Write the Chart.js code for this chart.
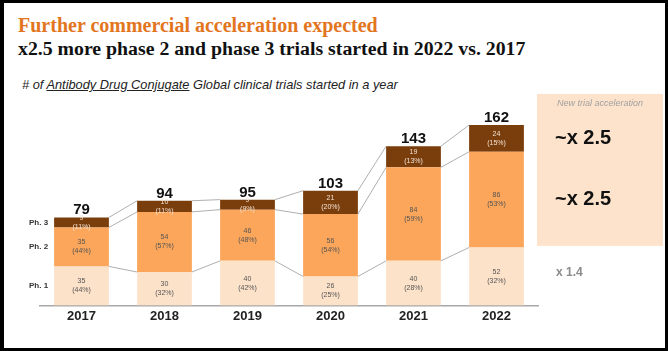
<!DOCTYPE html>
<html>
<head>
<meta charset="utf-8">
<script src="https://cdn.jsdelivr.net/npm/chart.js@4/dist/chart.umd.min.js"></script>
<style>
  html, body { margin: 0; padding: 0; background: #fff; }
  #wrap { position: relative; width: 668px; height: 351px; overflow: hidden; background: #fff; }
  #frame { position: absolute; left: 0; top: 0; width: 668px; height: 351px; box-sizing: border-box;
           border-style: solid; border-color: #000; border-width: 3px 3px 3px 4px; pointer-events: none; z-index: 5; }
  canvas { position: absolute; left: 0; top: 0; }
  .t1 { position: absolute; left: 18px; top: 14px; font: bold 20px "Liberation Serif", "Times New Roman", serif; color: #E2761F; white-space: nowrap; }
  .t2 { position: absolute; left: 18px; top: 37px; font: bold 19.8px "Liberation Serif", "Times New Roman", serif; color: #111; white-space: nowrap; }
  .sub { position: absolute; left: 22px; top: 77px; font: italic 12.8px "Liberation Sans", Arial, sans-serif; color: #222; white-space: nowrap; }
  .sub u { text-decoration: underline; }
</style>
</head>
<body>
<div id="wrap">
  <div class="t1">Further commercial acceleration expected</div>
  <div class="t2">x2.5 more phase 2 and phase 3 trials started in 2022 vs. 2017</div>
  <div class="sub"># of <u>Antibody Drug Conjugate</u> Global clinical trials started in a year</div>
  <canvas id="c" width="668" height="351"></canvas>
  <div id="frame"></div>
</div>
<script>
const years = ["2017", "2018", "2019", "2020", "2021", "2022"];
const phaseNames = ["Ph. 1", "Ph. 2", "Ph. 3"];
const ph1 = [35, 30, 40, 26, 40, 52];
const ph2 = [35, 54, 46, 56, 84, 86];
const ph3 = [9, 10, 9, 21, 19, 24];
const ph1Pct = [44, 32, 42, 25, 28, 32];
const ph2Pct = [44, 57, 48, 54, 59, 53];
const ph3Pct = [11, 11, 9, 20, 13, 15];
const totals = [79, 94, 95, 103, 143, 162];
const accelTitle = "New trial acceleration";
const accelLabels = ["x 1.4", "~x 2.5", "~x 2.5"];

const colors = ["#FDE2CA", "#FBA65A", "#7A3D0C"];
const valuesByPhase = [ph1, ph2, ph3];
const pctByPhase = [ph1Pct, ph2Pct, ph3Pct];

const overlay = {
  id: "overlay",
  beforeDatasetsDraw(chart) {
    const ctx = chart.ctx;
    const y = chart.scales.y;
    const boxLeft = chart.chartArea.right - 1;
    const top = y.getPixelForValue(190);
    const bottom = y.getPixelForValue(53.5);
    ctx.save();
    ctx.fillStyle = "#FDE3CC";
    ctx.fillRect(boxLeft, top, 663 - boxLeft, bottom - top);
    ctx.restore();
  },
  afterDatasetsDraw(chart) {
    const ctx = chart.ctx;
    const yS = chart.scales.y;
    const n = years.length;
    const metas = [0, 1, 2].map(i => chart.getDatasetMeta(i));
    ctx.save();
    // connectors
    ctx.strokeStyle = "#9a9a9a";
    ctx.lineWidth = 0.8;
    for (let i = 0; i < n - 1; i++) {
      for (let p = 0; p < 3; p++) {
        const a = metas[p].data[i], b = metas[p].data[i + 1];
        ctx.beginPath();
        ctx.moveTo(a.x + a.width / 2, a.y);
        ctx.lineTo(b.x - b.width / 2, b.y);
        ctx.stroke();
      }
    }
    // segment labels
    ctx.textAlign = "center";
    ctx.textBaseline = "middle";
    ctx.font = "7px 'Liberation Sans', Arial, sans-serif";
    for (let p = 0; p < 3; p++) {
      ctx.fillStyle = p === 2 ? "#f3e3d3" : "#555";
      for (let i = 0; i < n; i++) {
        const el = metas[p].data[i];
        const cy = (el.y + el.base) / 2;
        ctx.fillText(String(valuesByPhase[p][i]), el.x, cy - 4.5);
        ctx.fillText("(" + pctByPhase[p][i] + "%)", el.x, cy + 4.5);
      }
    }
    // totals
    ctx.fillStyle = "#111";
    ctx.font = "bold 15px 'Liberation Sans', Arial, sans-serif";
    ctx.textBaseline = "alphabetic";
    for (let i = 0; i < n; i++) {
      const el = metas[2].data[i];
      ctx.fillText(String(totals[i]), el.x, el.y - 3);
    }
    // phase names on the left of first bar
    ctx.font = "bold 8px 'Liberation Sans', Arial, sans-serif";
    ctx.fillStyle = "#333";
    ctx.textAlign = "right";
    ctx.textBaseline = "middle";
    for (let p = 0; p < 3; p++) {
      const el = metas[p].data[0];
      ctx.fillText(phaseNames[p], el.x - el.width / 2 - 6, (el.y + el.base) / 2);
    }
    // right box texts aligned to 2022 segments
    const boxLeft = chart.chartArea.right - 1;
    ctx.textAlign = "center";
    ctx.font = "italic 9px 'Liberation Sans', Arial, sans-serif";
    ctx.fillStyle = "#a0a0a0";
    ctx.fillText(accelTitle, (boxLeft + 663) / 2, yS.getPixelForValue(181.5));
    ctx.textAlign = "left";
    for (let p = 0; p < 3; p++) {
      const el = metas[p].data[n - 1];
      const cy = (el.y + el.base) / 2;
      if (p === 0) {
        ctx.font = "bold 12px 'Liberation Sans', Arial, sans-serif";
        ctx.fillStyle = "#8a8a8a";
        ctx.fillText(accelLabels[p], boxLeft + 19, cy - 4);
      } else {
        ctx.font = "bold 20px 'Liberation Sans', Arial, sans-serif";
        ctx.fillStyle = "#111";
        ctx.fillText(accelLabels[p], boxLeft + 18, cy);
      }
    }
    ctx.restore();
  }
};

new Chart(document.getElementById("c"), {
  type: "bar",
  data: {
    labels: years,
    datasets: valuesByPhase.map((vals, p) => ({
      label: phaseNames[p],
      data: vals,
      backgroundColor: colors[p],
      borderWidth: 0,
      barPercentage: 0.66,
      categoryPercentage: 1
    }))
  },
  options: {
    responsive: false,
    animation: false,
    events: [],
    layout: { padding: { left: 40, right: 130, top: 105, bottom: 24 } },
    plugins: { legend: { display: false }, tooltip: { enabled: false } },
    scales: {
      x: {
        stacked: true,
        grid: { display: false, drawTicks: false },
        border: { display: true, color: "#a8a8a8", width: 1.5 },
        ticks: { color: "#222", font: { family: "'Liberation Sans', Arial, sans-serif", size: 13, weight: "bold" }, padding: 3 }
      },
      y: {
        stacked: true,
        display: false,
        min: 0,
        max: 180
      }
    }
  },
  plugins: [overlay]
});
</script>
</body>
</html>
